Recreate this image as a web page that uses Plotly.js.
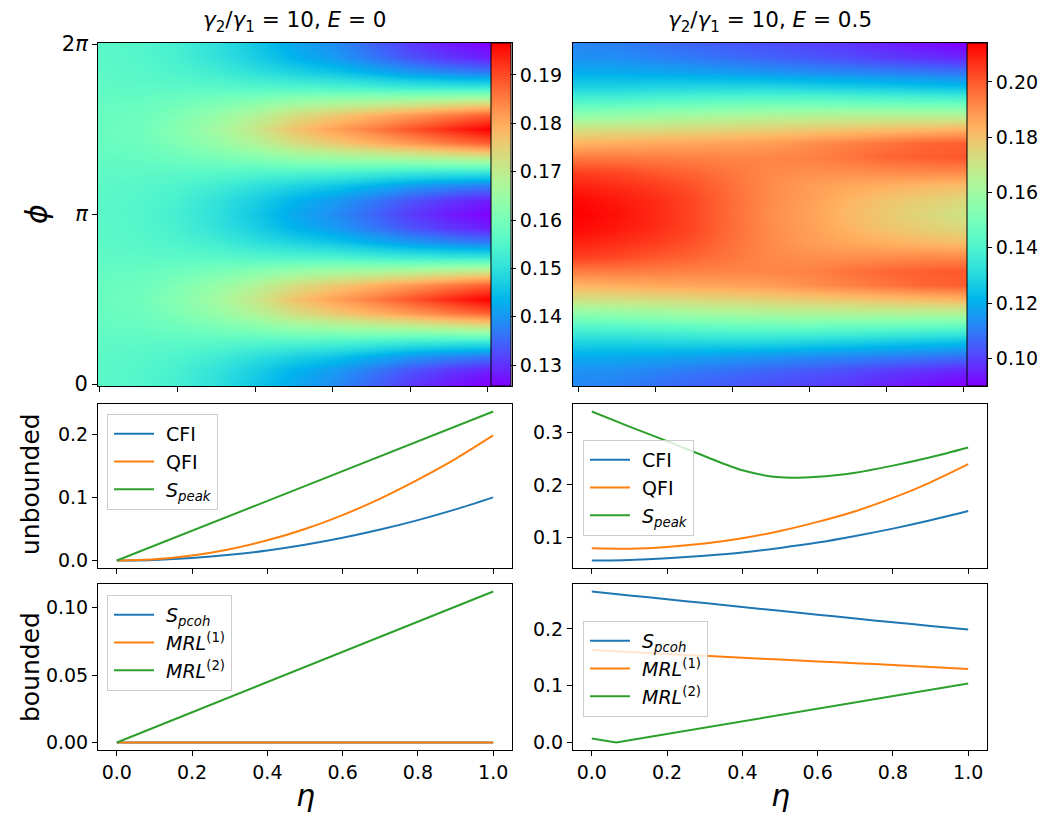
<!DOCTYPE html>
<html>
<head>
<meta charset="utf-8">
<script src="https://cdn.plot.ly/plotly-3.0.1.min.js"></script>
<style>
  html, body { margin: 0; padding: 0; background: #ffffff; }
  #fig { width: 1058px; height: 814px; }
</style>
</head>
<body>
<div id="fig"></div>
<script>
// ---- coupling strength grid (x) ----
const eta = [0, 0.1, 0.2, 0.3, 0.4, 0.5, 0.6, 0.7, 0.8, 0.9, 1.0];
// phase grid (y): 25 rows from 0 to 2π
const phiGrid = Array.from({length: 25}, (_, k) => k * Math.PI / 12);

// ---- map for E = 0 (rows in φ, columns in η) ----
const zE0 = [
  [0.1560, 0.1550, 0.1530, 0.1500, 0.1460, 0.1420, 0.1390, 0.1350, 0.1310, 0.1280, 0.1257],
  [0.1561, 0.1552, 0.1534, 0.1506, 0.1470, 0.1434, 0.1407, 0.1370, 0.1333, 0.1306, 0.1285],
  [0.1563, 0.1556, 0.1544, 0.1526, 0.1500, 0.1476, 0.1457, 0.1430, 0.1403, 0.1384, 0.1370],
  [0.1567, 0.1564, 0.1562, 0.1558, 0.1550, 0.1546, 0.1541, 0.1530, 0.1519, 0.1514, 0.1512],
  [0.1573, 0.1576, 0.1588, 0.1602, 0.1620, 0.1644, 0.1659, 0.1670, 0.1681, 0.1696, 0.1711],
  [0.1578, 0.1585, 0.1609, 0.1641, 0.1680, 0.1728, 0.1760, 0.1790, 0.1820, 0.1852, 0.1880],
  [0.1580, 0.1590, 0.1620, 0.1660, 0.1710, 0.1770, 0.1810, 0.1850, 0.1890, 0.1930, 0.1966],
  [0.1578, 0.1585, 0.1609, 0.1641, 0.1680, 0.1728, 0.1760, 0.1790, 0.1820, 0.1852, 0.1880],
  [0.1573, 0.1576, 0.1588, 0.1602, 0.1620, 0.1644, 0.1659, 0.1670, 0.1681, 0.1696, 0.1711],
  [0.1567, 0.1564, 0.1562, 0.1558, 0.1550, 0.1546, 0.1541, 0.1530, 0.1519, 0.1514, 0.1512],
  [0.1563, 0.1556, 0.1544, 0.1526, 0.1500, 0.1476, 0.1457, 0.1430, 0.1403, 0.1384, 0.1370],
  [0.1561, 0.1552, 0.1534, 0.1506, 0.1470, 0.1434, 0.1407, 0.1370, 0.1333, 0.1306, 0.1285],
  [0.1560, 0.1550, 0.1530, 0.1500, 0.1460, 0.1420, 0.1390, 0.1350, 0.1310, 0.1280, 0.1257],
  [0.1561, 0.1552, 0.1534, 0.1506, 0.1470, 0.1434, 0.1407, 0.1370, 0.1333, 0.1306, 0.1285],
  [0.1563, 0.1556, 0.1544, 0.1526, 0.1500, 0.1476, 0.1457, 0.1430, 0.1403, 0.1384, 0.1370],
  [0.1567, 0.1564, 0.1562, 0.1558, 0.1550, 0.1546, 0.1541, 0.1530, 0.1519, 0.1514, 0.1512],
  [0.1573, 0.1576, 0.1588, 0.1602, 0.1620, 0.1644, 0.1659, 0.1670, 0.1681, 0.1696, 0.1711],
  [0.1578, 0.1585, 0.1609, 0.1641, 0.1680, 0.1728, 0.1760, 0.1790, 0.1820, 0.1852, 0.1880],
  [0.1580, 0.1590, 0.1620, 0.1660, 0.1710, 0.1770, 0.1810, 0.1850, 0.1890, 0.1930, 0.1966],
  [0.1578, 0.1585, 0.1609, 0.1641, 0.1680, 0.1728, 0.1760, 0.1790, 0.1820, 0.1852, 0.1880],
  [0.1573, 0.1576, 0.1588, 0.1602, 0.1620, 0.1644, 0.1659, 0.1670, 0.1681, 0.1696, 0.1711],
  [0.1567, 0.1564, 0.1562, 0.1558, 0.1550, 0.1546, 0.1541, 0.1530, 0.1519, 0.1514, 0.1512],
  [0.1563, 0.1556, 0.1544, 0.1526, 0.1500, 0.1476, 0.1457, 0.1430, 0.1403, 0.1384, 0.1370],
  [0.1561, 0.1552, 0.1534, 0.1506, 0.1470, 0.1434, 0.1407, 0.1370, 0.1333, 0.1306, 0.1285],
  [0.1560, 0.1550, 0.1530, 0.1500, 0.1460, 0.1420, 0.1390, 0.1350, 0.1310, 0.1280, 0.1257]
];

// ---- map for E = 0.5 ----
const zE05 = [
  [0.1123, 0.1110, 0.1085, 0.1060, 0.1042, 0.1023, 0.1005, 0.0986, 0.0955, 0.0925, 0.0900],
  [0.1141, 0.1135, 0.1116, 0.1098, 0.1079, 0.1060, 0.1042, 0.1023, 0.0998, 0.0980, 0.0961],
  [0.1197, 0.1191, 0.1185, 0.1172, 0.1160, 0.1147, 0.1135, 0.1123, 0.1110, 0.1098, 0.1085],
  [0.1284, 0.1284, 0.1290, 0.1296, 0.1296, 0.1296, 0.1284, 0.1272, 0.1259, 0.1247, 0.1234],
  [0.1408, 0.1414, 0.1427, 0.1439, 0.1452, 0.1458, 0.1458, 0.1452, 0.1446, 0.1439, 0.1433],
  [0.1557, 0.1570, 0.1588, 0.1607, 0.1619, 0.1632, 0.1638, 0.1644, 0.1644, 0.1644, 0.1644],
  [0.1719, 0.1725, 0.1731, 0.1744, 0.1756, 0.1768, 0.1781, 0.1793, 0.1806, 0.1818, 0.1831],
  [0.1831, 0.1843, 0.1855, 0.1862, 0.1868, 0.1880, 0.1905, 0.1930, 0.1955, 0.1980, 0.1992],
  [0.1942, 0.1942, 0.1936, 0.1930, 0.1924, 0.1924, 0.1930, 0.1955, 0.1980, 0.1992, 0.2004],
  [0.2042, 0.2029, 0.2004, 0.1980, 0.1949, 0.1917, 0.1905, 0.1905, 0.1911, 0.1917, 0.1917],
  [0.2091, 0.2073, 0.2048, 0.2011, 0.1961, 0.1911, 0.1880, 0.1855, 0.1837, 0.1818, 0.1806],
  [0.2129, 0.2104, 0.2073, 0.2029, 0.1967, 0.1911, 0.1874, 0.1831, 0.1793, 0.1768, 0.1744],
  [0.2141, 0.2116, 0.2079, 0.2029, 0.1967, 0.1905, 0.1868, 0.1818, 0.1781, 0.1744, 0.1706],
  [0.2129, 0.2104, 0.2073, 0.2029, 0.1967, 0.1911, 0.1874, 0.1831, 0.1793, 0.1768, 0.1744],
  [0.2091, 0.2073, 0.2048, 0.2011, 0.1961, 0.1911, 0.1880, 0.1855, 0.1837, 0.1818, 0.1806],
  [0.2042, 0.2029, 0.2004, 0.1980, 0.1949, 0.1917, 0.1905, 0.1905, 0.1911, 0.1917, 0.1917],
  [0.1942, 0.1942, 0.1936, 0.1930, 0.1924, 0.1924, 0.1930, 0.1955, 0.1980, 0.1992, 0.2004],
  [0.1831, 0.1843, 0.1855, 0.1862, 0.1868, 0.1880, 0.1905, 0.1930, 0.1955, 0.1980, 0.1992],
  [0.1719, 0.1725, 0.1731, 0.1744, 0.1756, 0.1768, 0.1781, 0.1793, 0.1806, 0.1818, 0.1831],
  [0.1557, 0.1570, 0.1588, 0.1607, 0.1619, 0.1632, 0.1638, 0.1644, 0.1644, 0.1644, 0.1644],
  [0.1408, 0.1414, 0.1427, 0.1439, 0.1452, 0.1458, 0.1458, 0.1452, 0.1446, 0.1439, 0.1433],
  [0.1284, 0.1284, 0.1290, 0.1296, 0.1296, 0.1296, 0.1284, 0.1272, 0.1259, 0.1247, 0.1234],
  [0.1197, 0.1191, 0.1185, 0.1172, 0.1160, 0.1147, 0.1135, 0.1123, 0.1110, 0.1098, 0.1085],
  [0.1141, 0.1135, 0.1116, 0.1098, 0.1079, 0.1060, 0.1042, 0.1023, 0.0998, 0.0980, 0.0961],
  [0.1123, 0.1110, 0.1085, 0.1060, 0.1042, 0.1023, 0.1005, 0.0986, 0.0955, 0.0925, 0.0900]
];

// ---- unbounded quantifiers ----
const cfiE0    = [0, 0.001, 0.004, 0.009, 0.016, 0.025, 0.036, 0.049, 0.064, 0.081, 0.100];
const qfiE0    = [0, 0.002, 0.008, 0.018, 0.032, 0.050, 0.072, 0.098, 0.128, 0.161, 0.198];
const speakE0  = [0, 0.0236, 0.0472, 0.0708, 0.0944, 0.118, 0.1416, 0.1652, 0.1888, 0.2124, 0.236];
const cfiE05   = [0.0548, 0.0560, 0.0592, 0.0640, 0.0701, 0.0790, 0.0893, 0.1020, 0.1161, 0.1320, 0.1498];
const qfiE05   = [0.0784, 0.0776, 0.0810, 0.0875, 0.0975, 0.1115, 0.1290, 0.1495, 0.1750, 0.2050, 0.2398];
const speakE05 = [0.341, 0.312, 0.284, 0.255, 0.228, 0.2145, 0.2155, 0.2235, 0.2370, 0.2530, 0.2718];

// ---- bounded quantifiers ----
const spcohE0  = [0, 0, 0, 0, 0, 0, 0, 0, 0, 0, 0];
const mrl1E0   = [0, 0, 0, 0, 0, 0, 0, 0, 0, 0, 0];
const mrl2E0   = [0, 0.0112, 0.0224, 0.0336, 0.0448, 0.056, 0.0672, 0.0784, 0.0896, 0.1008, 0.112];
const spcohE05 = [0.2658, 0.2590, 0.2522, 0.2455, 0.2387, 0.2318, 0.2250, 0.2183, 0.2117, 0.2052, 0.1988];
const mrl1E05  = [0.1630, 0.1595, 0.1560, 0.1525, 0.1492, 0.1460, 0.1428, 0.1396, 0.1365, 0.1330, 0.1294];
const etaMrl2E05 = [0, 0.065, 0.1, 0.2, 0.3, 0.4, 0.5, 0.6, 0.7, 0.8, 0.9, 1.0];
const mrl2E05  = [0.0071, 0.0, 0.0039, 0.0150, 0.0261, 0.0373, 0.0484, 0.0595, 0.0706, 0.0817, 0.0929, 0.1040];

// ---- tick labels / titles ----
const phiTickVals = [0, Math.PI, 2 * Math.PI];
const phiTickText = ['0', '<i>π</i>', '2<i>π</i>'];
const etaTicks = [0, 0.2, 0.4, 0.6, 0.8, 1.0];
const panelTitles = [
  '<i>γ</i><sub>2</sub>/<i>γ</i><sub>1</sub> = 10, <i>E</i> = 0',
  '<i>γ</i><sub>2</sub>/<i>γ</i><sub>1</sub> = 10, <i>E</i> = 0.5'
];

// rainbow colour map
const rainbow = [
  [0.00, 'rgb(128,0,255)'], [0.05, 'rgb(102,40,254)'], [0.10, 'rgb(77,79,252)'],
  [0.15, 'rgb(51,116,248)'], [0.20, 'rgb(26,150,243)'], [0.25, 'rgb(0,180,236)'],
  [0.30, 'rgb(26,206,227)'], [0.35, 'rgb(51,227,218)'], [0.40, 'rgb(77,243,206)'],
  [0.45, 'rgb(102,252,194)'], [0.50, 'rgb(128,255,180)'], [0.55, 'rgb(153,252,166)'],
  [0.60, 'rgb(179,243,150)'], [0.65, 'rgb(204,227,133)'], [0.70, 'rgb(230,206,116)'],
  [0.75, 'rgb(255,180,98)'], [0.80, 'rgb(255,150,79)'], [0.85, 'rgb(255,116,60)'],
  [0.90, 'rgb(255,79,40)'], [0.95, 'rgb(255,40,20)'], [1.00, 'rgb(255,0,0)']
];

const W = 1058, H = 814;
const px = v => v / W;
const py = v => 1 - v / H;
const FONT = 'DejaVu Sans, Liberation Sans, sans-serif';
const C = ['#1f77b4', '#ff7f0e', '#2ca02c'];
const TICK = 19;

function cbar(yTop, yBot, xLeft, tick0, dtick, fmt) {
  return {
    x: px(xLeft), xanchor: 'left', xpad: 0,
    y: py((yTop + yBot) / 2), yanchor: 'middle', ypad: 0,
    len: yBot - yTop, lenmode: 'pixels',
    thickness: 20, thicknessmode: 'pixels',
    outlinecolor: '#000', outlinewidth: 1,
    ticks: 'outside', ticklen: 5, tickwidth: 1, tickcolor: '#000',
    tick0: tick0, dtick: dtick, tickformat: fmt,
    tickfont: {family: FONT, size: TICK, color: '#000'}
  };
}

const traces = [
  {type: 'heatmap', x: eta, y: phiGrid, z: zE0, colorscale: rainbow, zsmooth: 'best',
   xaxis: 'x', yaxis: 'y', colorbar: cbar(43, 386, 491, 0.13, 0.01, '.2f')},
  {type: 'heatmap', x: eta, y: phiGrid, z: zE05, colorscale: rainbow, zsmooth: 'best',
   xaxis: 'x2', yaxis: 'y2', colorbar: cbar(43, 386, 967, 0.10, 0.02, '.2f')}
];

function line(x, y, color, name, xa, ya, lg, shape) {
  return {type: 'scatter', mode: 'lines', x: x, y: y, name: name,
          line: {color: color, width: 2, shape: shape || 'spline', smoothing: 0.8},
          xaxis: xa, yaxis: ya, legend: lg};
}
traces.push(
  line(eta, cfiE0,   C[0], 'CFI', 'x3', 'y3', 'legend'),
  line(eta, qfiE0,   C[1], 'QFI', 'x3', 'y3', 'legend'),
  line(eta, speakE0, C[2], '<i>S</i><sub><i>peak</i></sub>', 'x3', 'y3', 'legend', 'linear'),
  line(eta, cfiE05,   C[0], 'CFI', 'x4', 'y4', 'legend3'),
  line(eta, qfiE05,   C[1], 'QFI', 'x4', 'y4', 'legend3'),
  line(eta, speakE05, C[2], '<i>S</i><sub><i>peak</i></sub>', 'x4', 'y4', 'legend3'),
  line(eta, spcohE0, C[0], '<i>S</i><sub><i>pcoh</i></sub>', 'x5', 'y5', 'legend2', 'linear'),
  line(eta, mrl1E0,  C[1], '<i>MRL</i><sup>(1)</sup>', 'x5', 'y5', 'legend2', 'linear'),
  line(eta, mrl2E0,  C[2], '<i>MRL</i><sup>(2)</sup>', 'x5', 'y5', 'legend2', 'linear'),
  line(eta, spcohE05, C[0], '<i>S</i><sub><i>pcoh</i></sub>', 'x6', 'y6', 'legend4'),
  line(eta, mrl1E05,  C[1], '<i>MRL</i><sup>(1)</sup>', 'x6', 'y6', 'legend4'),
  line(etaMrl2E05, mrl2E05, C[2], '<i>MRL</i><sup>(2)</sup>', 'x6', 'y6', 'legend4', 'linear')
);

const tickFont = {family: FONT, size: TICK, color: '#000'};
function axis(domain, range, extra) {
  return Object.assign({
    domain: domain, range: range, showgrid: false, zeroline: false,
    showline: true, mirror: true, linecolor: '#000', linewidth: 1,
    ticks: 'outside', ticklen: 5, tickwidth: 1, tickcolor: '#000',
    tickfont: tickFont, fixedrange: true
  }, extra || {});
}

const colL = [px(98), px(512)], colR = [px(573), px(987)];
const rowHeat = [py(386), py(43)], rowMid = [py(568), py(404)], rowBot = [py(750), py(584)];
const heatY = [-0.037, 6.302];

function legendBox(x, y) {
  return {x: px(x), y: py(y), xanchor: 'left', yanchor: 'top',
          bgcolor: 'rgba(255,255,255,0.8)', bordercolor: '#cccccc', borderwidth: 1,
          font: {family: FONT, size: 19, color: '#000'}, itemwidth: 48, tracegroupgap: 0};
}

function label(text, x, y, size, angle) {
  return {text: text, x: px(x), y: py(y), xref: 'paper', yref: 'paper', showarrow: false,
          xanchor: 'center', yanchor: 'middle', textangle: angle || 0,
          font: {family: FONT, size: size, color: '#000'}};
}

const layout = {
  width: W, height: H, margin: {l: 0, r: 0, t: 0, b: 0},
  paper_bgcolor: '#fff', plot_bgcolor: '#fff', showlegend: true,
  font: {family: FONT, color: '#000'},
  xaxis:  axis(colL, [-0.005, 1.062], {anchor: 'y', tickvals: etaTicks, showticklabels: false}),
  yaxis:  axis(rowHeat, heatY, {anchor: 'x', tickvals: phiTickVals, ticktext: phiTickText,
                                tickfont: {family: FONT, size: 21, color: '#000'}}),
  xaxis2: axis(colR, [-0.013, 1.062], {anchor: 'y2', tickvals: etaTicks, showticklabels: false}),
  yaxis2: axis(rowHeat, heatY, {anchor: 'x2', ticks: '', showticklabels: false}),
  xaxis3: axis(colL, [-0.05, 1.05], {anchor: 'y3', tickvals: etaTicks, showticklabels: false}),
  yaxis3: axis(rowMid, [-0.0118, 0.2478], {anchor: 'x3', tickvals: [0, 0.1, 0.2], tickformat: '.1f'}),
  xaxis4: axis(colR, [-0.05, 1.05], {anchor: 'y4', tickvals: etaTicks, showticklabels: false}),
  yaxis4: axis(rowMid, [0.0405, 0.3553], {anchor: 'x4', tickvals: [0.1, 0.2, 0.3], tickformat: '.1f'}),
  xaxis5: axis(colL, [-0.05, 1.05], {anchor: 'y5', tickvals: etaTicks, tickformat: '.1f'}),
  yaxis5: axis(rowBot, [-0.0056, 0.1176], {anchor: 'x5', tickvals: [0, 0.05, 0.10], tickformat: '.2f'}),
  xaxis6: axis(colR, [-0.05, 1.05], {anchor: 'y6', tickvals: etaTicks, tickformat: '.1f'}),
  yaxis6: axis(rowBot, [-0.0133, 0.2791], {anchor: 'x6', tickvals: [0, 0.1, 0.2], tickformat: '.1f'}),
  legend:  legendBox(107, 414),
  legend2: legendBox(107, 595),
  legend3: legendBox(583, 440),
  legend4: legendBox(583, 621),
  annotations: [
    label(panelTitles[0], 294.5, 22, 21.5),
    label(panelTitles[1], 770, 22, 21.5),
    label('<i>ϕ</i>', 36, 214, 30, -90),
    label('unbounded', 30, 484, 25, -90),
    label('bounded', 30, 667, 25, -90),
    label('<i>η</i>', 305, 795, 30),
    label('<i>η</i>', 780, 795, 30)
  ]
};

Plotly.newPlot('fig', traces, layout, {staticPlot: true, displayModeBar: false}).then(gd => {
  // longer legend line samples
  gd.querySelectorAll('.legendlines path').forEach(p => p.setAttribute('d', 'M6,0h40'));
});
</script>
</body>
</html>
